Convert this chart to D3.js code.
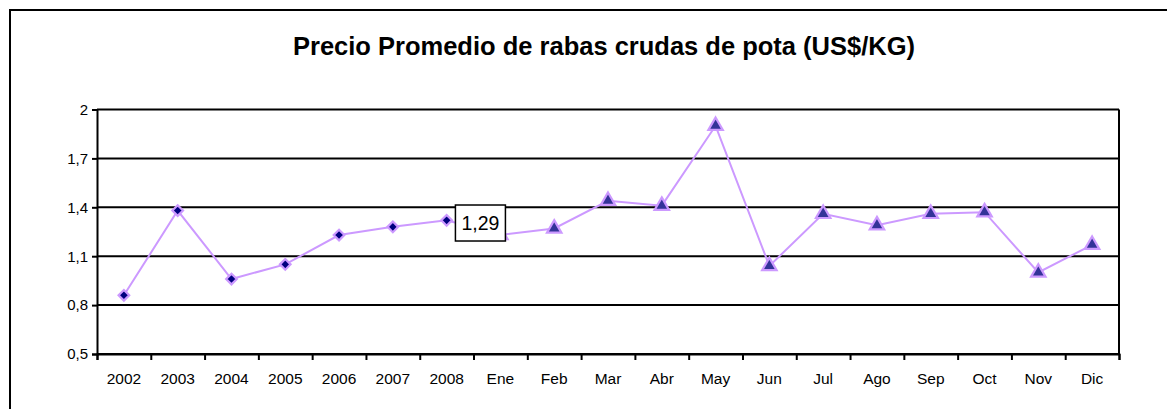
<!DOCTYPE html>
<html>
<head>
<meta charset="utf-8">
<script src="https://cdn.jsdelivr.net/npm/d3@7"></script>
<style>
  html, body { margin: 0; padding: 0; background: #fff; }
  svg { display: block; font-family: "Liberation Sans", Arial, sans-serif; }
</style>
</head>
<body>
<svg id="chart" width="1167" height="409"></svg>
<script>
const title = "Precio Promedio de rabas crudas de pota (US$/KG)";
const categories = ["2002","2003","2004","2005","2006","2007","2008","Ene","Feb","Mar","Abr","May","Jun","Jul","Ago","Sep","Oct","Nov","Dic"];
const values = [0.86, 1.38, 0.96, 1.05, 1.23, 1.28, 1.32, 1.23, 1.27, 1.44, 1.41, 1.90, 1.04, 1.36, 1.29, 1.36, 1.37, 1.00, 1.17];
const markerTypes = ["diamond","diamond","diamond","diamond","diamond","diamond","diamond","triangle","triangle","triangle","triangle","triangle","triangle","triangle","triangle","triangle","triangle","triangle","triangle"];
const yTicks = [0.5, 0.8, 1.1, 1.4, 1.7, 2.0];
const dataLabelCategory = "Ene";
const dataLabelText = "1,29";

const svg = d3.select("#chart");
const W = 1167, H = 409;
const plot = {left: 97, right: 1119, top: 109.5, bottom: 354};

// outer chart border
svg.append("rect").attr("x", 10).attr("y", 10).attr("width", W + 20).attr("height", H + 20)
  .attr("fill", "#fff").attr("stroke", "#000").attr("stroke-width", 2);

// title
svg.append("text").attr("x", 604).attr("y", 55).attr("text-anchor", "middle")
  .attr("font-weight", "bold").attr("font-size", 25.5).attr("fill", "#000")
  .text(title);

const x = d3.scaleBand().domain(categories).range([plot.left, plot.right]).padding(0);
const xIdx = d3.scaleLinear().domain([0, categories.length]).range([plot.left, plot.right]);
const y = d3.scaleLinear().domain([0.5, 2]).range([plot.bottom, plot.top]);

// gridlines
svg.append("g").selectAll("line").data(yTicks).join("line")
  .attr("x1", plot.left).attr("x2", plot.right)
  .attr("y1", d => y(d)).attr("y2", d => y(d))
  .attr("stroke", "#000").attr("stroke-width", 2);
// right border of plot
svg.append("line").attr("x1", plot.right).attr("x2", plot.right)
  .attr("y1", plot.top).attr("y2", plot.bottom).attr("stroke", "#000").attr("stroke-width", 2);

// y axis
const fmt = d => d3.format(".1f")(d).replace(".", ",").replace(/,0$/, "");
const yAxis = svg.append("g").attr("transform", `translate(${plot.left},0)`)
  .call(d3.axisLeft(y).tickValues(yTicks).tickFormat(fmt).tickSize(5).tickPadding(4));
yAxis.select(".domain").attr("stroke", "#000").attr("stroke-width", 2);
yAxis.selectAll(".tick line").attr("stroke", "#000").attr("stroke-width", 2);
yAxis.selectAll("text").attr("font-size", 15).attr("fill", "#000")
  .attr("font-family", "Liberation Sans, Arial, sans-serif");

// x axis: boundary ticks
const xTickAxis = svg.append("g").attr("transform", `translate(0,${plot.bottom})`)
  .call(d3.axisBottom(xIdx).tickValues(d3.range(categories.length + 1)).tickFormat("").tickSize(6));
xTickAxis.select(".domain").attr("stroke", "#000").attr("stroke-width", 2);
xTickAxis.selectAll(".tick line").attr("stroke", "#000").attr("stroke-width", 2);
// x labels
const xLab = svg.append("g").attr("transform", `translate(0,${plot.bottom})`)
  .call(d3.axisBottom(x).tickSize(0).tickPadding(19));
xLab.select(".domain").remove();
xLab.selectAll("text").attr("font-size", 15.5).attr("fill", "#000")
  .attr("font-family", "Liberation Sans, Arial, sans-serif");

// line
const pts = categories.map((c, i) => ({c, v: values[i], m: markerTypes[i]}));
const line = d3.line().x(d => x(d.c) + x.bandwidth() / 2).y(d => y(d.v));
svg.append("path").datum(pts).attr("d", line).attr("fill", "none")
  .attr("stroke", "#CC99FF").attr("stroke-width", 2);

// markers
const diamond = d3.symbol().type(d3.symbolDiamond2).size(72);
const tri = d3.symbol().type(d3.symbolTriangle).size(90);
svg.append("g").selectAll("path").data(pts).join("path")
  .attr("transform", d => `translate(${x(d.c) + x.bandwidth() / 2},${y(d.v)})`)
  .attr("d", d => d.m === "diamond" ? diamond() : tri())
  .attr("fill", d => d.m === "diamond" ? "#000080" : "#333399")
  .attr("stroke", "#CC99FF").attr("stroke-width", 2.2);

// data label
const lp = pts.find(p => p.c === dataLabelCategory);
const lx = x(lp.c) + x.bandwidth() / 2 - 20;
const ly = y(lp.v) - 12;
const lg = svg.append("g");
lg.append("rect").attr("x", lx - 25).attr("y", ly - 18).attr("width", 50).attr("height", 36)
  .attr("fill", "#fff").attr("stroke", "#000").attr("stroke-width", 1.5);
lg.append("text").attr("x", lx).attr("y", ly + 7).attr("text-anchor", "middle")
  .attr("font-size", 19.5).attr("fill", "#000").text(dataLabelText);
</script>
</body>
</html>
